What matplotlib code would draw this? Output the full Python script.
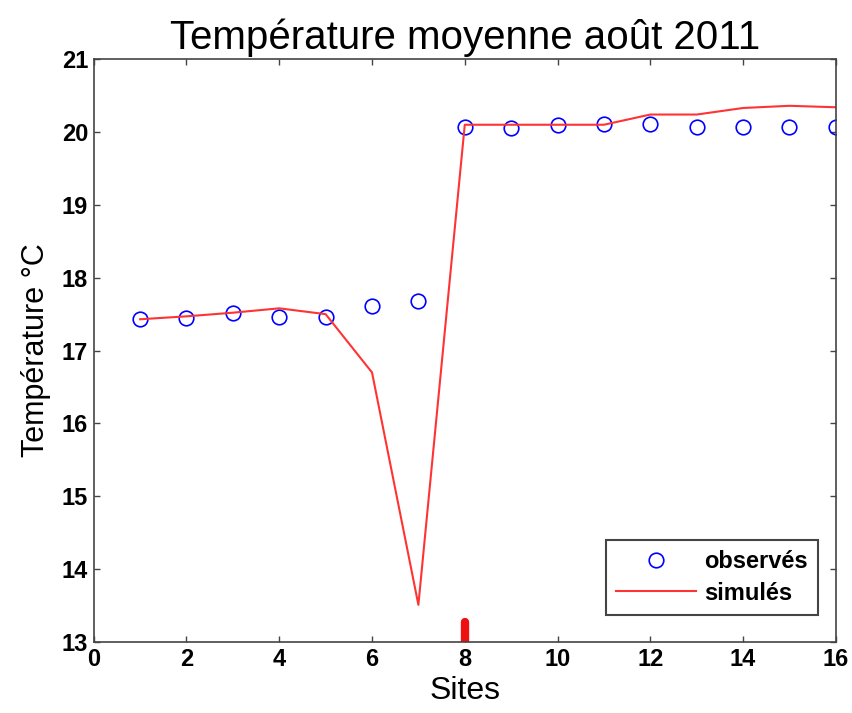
import numpy as np
import matplotlib
matplotlib.use("Agg")
import matplotlib.pyplot as plt

plt.rcParams['font.family'] = ['Liberation Sans', 'DejaVu Sans']

sites = np.arange(1, 17)
observes = [17.43, 17.45, 17.51, 17.46, 17.46, 17.61, 17.68, 20.07,
            20.05, 20.09, 20.11, 20.11, 20.07, 20.07, 20.07, 20.07]
simules = [17.43, 17.47, 17.52, 17.58, 17.50, 16.70, 13.51, 20.10,
           20.10, 20.10, 20.10, 20.24, 20.24, 20.33, 20.36, 20.34]
# small red mark sitting on the x axis at site 8
marque_x = [8, 8]
marque_y = [13.02, 13.27]

fig = plt.figure(figsize=(8.52, 7.13), dpi=100)
ax = fig.add_axes([0.110, 0.0996, 0.871, 0.8174])

ax.plot(sites, observes, 'o', mfc='none', mec='#0000ff', ms=10.5, mew=1.2,
        label='observés')
ax.plot(sites, simules, '-', color='#ff3333', lw=1.5, label='simulés')
ax.plot(marque_x, marque_y, '-', color='#ee1111', lw=6, solid_capstyle='round')

ax.set_xlim(0, 16)
ax.set_ylim(13, 21)
ax.set_xticks(np.arange(0, 17, 2))
ax.set_yticks(np.arange(13, 22, 1))
ax.tick_params(direction='in', top=True, right=True, labelsize=17,
               length=4, width=1, color='#444444', pad=4)
for lab in ax.get_xticklabels() + ax.get_yticklabels():
    lab.set_fontweight('bold')
for s in ax.spines.values():
    s.set_color('#444444')
    s.set_linewidth(1.2)

ax.set_title('Température moyenne août 2011', fontsize=29, pad=7)
ax.set_xlabel('Sites', fontsize=23, labelpad=4)
ax.set_ylabel('Température °C', fontsize=22, labelpad=8)

leg = ax.legend(loc='lower right', bbox_to_anchor=(0.985, 0.035),
                prop={'weight': 'bold', 'size': 17}, fancybox=False,
                edgecolor='#444444', framealpha=1, handlelength=3.4,
                handletextpad=0.35, borderpad=0.42, labelspacing=0.35,
                borderaxespad=0.3)
leg.get_frame().set_linewidth(1.5)

fig.savefig('out.png', dpi=100)
